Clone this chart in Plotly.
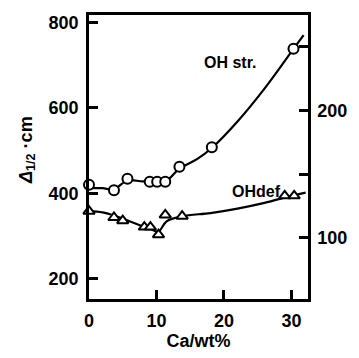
import plotly.graph_objects as go

# OH stretching band half-width (left axis)
ca_str = [0, 3.7, 5.7, 9.0, 10.1, 11.3, 13.4, 18.2, 30.3]
oh_str = [420, 407, 434, 427, 427, 427, 462, 508, 738]
curve_str_x = [0, 2, 3.7, 5.7, 8, 11.3, 13.4, 16, 18.2, 22, 26, 30.3, 31.8]
curve_str_y = [413, 412, 410, 430, 428, 428, 458, 480, 506, 568, 645, 738, 770]

# OH deformation band half-width (right axis)
ca_def = [0, 3.7, 5.0, 8.2, 9.1, 10.3, 11.3, 13.8, 29.0, 30.4]
oh_def = [121, 116, 113.5, 108.5, 108.5, 102.5, 118, 117, 133, 133]
curve_def_x = [0, 2, 4, 6, 8, 9.5, 10.3, 11.5, 13.8, 18, 22, 26, 30, 32.1]
curve_def_y = [121, 120, 117, 113, 109, 106, 105, 113, 117, 119.5, 123, 127.5, 133, 135.5]

x_ticks = [0, 10, 20, 30]
y_ticks = [200, 400, 600, 800]
y2_ticks = [100, 200]
y2_minor_ticks = [150, 250]

FONT = "Liberation Sans, Arial, sans-serif"

fig = go.Figure()
fig.add_trace(go.Scatter(x=curve_str_x, y=curve_str_y, mode="lines",
                         line=dict(color="black", width=2.2, shape="spline"),
                         hoverinfo="skip", cliponaxis=False))
fig.add_trace(go.Scatter(x=ca_str, y=oh_str, mode="markers",
                         marker=dict(symbol="circle", size=10, color="white",
                                     line=dict(color="black", width=2)),
                         cliponaxis=False))
fig.add_trace(go.Scatter(x=curve_def_x, y=curve_def_y, mode="lines", yaxis="y2",
                         line=dict(color="black", width=2.2, shape="spline"),
                         hoverinfo="skip", cliponaxis=False))
fig.add_trace(go.Scatter(x=ca_def, y=oh_def, mode="markers", yaxis="y2",
                         marker=dict(symbol="triangle-up", size=10, color="white",
                                     line=dict(color="black", width=2)),
                         cliponaxis=False))

fig.update_layout(
    width=359, height=358,
    margin=dict(l=89, r=41, t=14, b=48),
    paper_bgcolor="white", plot_bgcolor="white",
    showlegend=False,
    font=dict(family=FONT, size=18, color="black", weight="bold"),
    xaxis=dict(range=[0, 32.45], tickvals=x_ticks, ticks="inside", ticklen=9,
               tickwidth=2.5, tickcolor="black", showline=True, linewidth=2.5,
               linecolor="black", mirror=True, showgrid=False, zeroline=False,
               tickfont=dict(size=18, weight="bold"), ticklabelstandoff=4,
               title=dict(text="Ca/wt%", font=dict(size=18, weight="bold"),
                          standoff=2)),
    yaxis=dict(range=[153, 817], tickvals=y_ticks, ticks="inside", ticklen=9,
               tickwidth=2.5, tickcolor="black", showline=True, linewidth=2.5,
               linecolor="black", showgrid=False, zeroline=False,
               tickfont=dict(size=18, weight="bold"), ticklabelstandoff=4),
    yaxis2=dict(range=[52, 275], tickvals=y2_ticks,
                overlaying="y", side="right", ticks="inside", ticklen=9,
                tickwidth=2.5, tickcolor="black", showline=True, linewidth=2.5,
                linecolor="black", showgrid=False, zeroline=False,
                tickfont=dict(size=18, weight="bold"), ticklabelstandoff=3,
                minor=dict(tickvals=y2_minor_ticks, ticks="inside", ticklen=9,
                           tickwidth=2.5, tickcolor="black", showgrid=False)),
    annotations=[
        dict(text="<i>Δ</i><sub>1/2</sub> ·cm", xref="paper", yref="paper",
             x=-0.284, y=0.524, xanchor="center", yanchor="middle",
             textangle=-90, showarrow=False,
             font=dict(size=18, weight="bold")),
        dict(text="OH str.", x=20.85, y=705, xref="x", yref="y", showarrow=False,
             font=dict(size=16, weight="bold")),
        dict(text="OHdef", x=24.75, y=136.8, xref="x", yref="y2", showarrow=False,
             font=dict(size=16, weight="bold")),
    ],
)

fig.write_html("out.html",
               config={"displayModeBar": False},
               post_script="document.body.style.margin='0';"
                           "document.body.style.overflow='hidden';")
